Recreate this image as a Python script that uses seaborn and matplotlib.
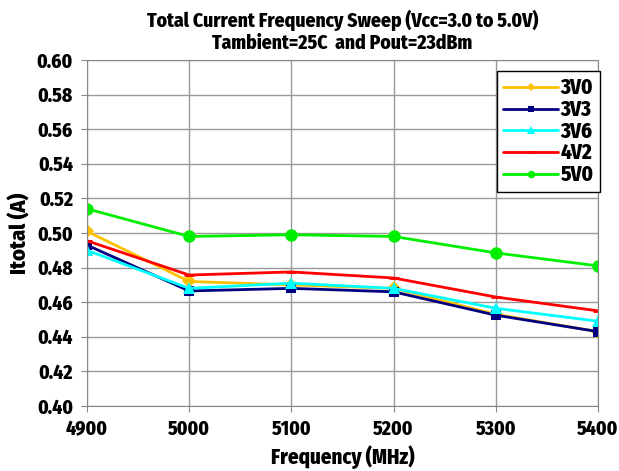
import matplotlib
matplotlib.use('Agg')
import pandas as pd
import matplotlib.pyplot as plt
import seaborn as sns

freq = [4900, 5000, 5100, 5200, 5300, 5400]
i_3v0 = [0.501, 0.472, 0.470, 0.468, 0.453, 0.443]
i_3v3 = [0.493, 0.4665, 0.468, 0.466, 0.4525, 0.443]
i_3v6 = [0.490, 0.468, 0.471, 0.468, 0.4565, 0.449]
i_4v2 = [0.4955, 0.4757, 0.4775, 0.474, 0.463, 0.455]
i_5v0 = [0.514, 0.498, 0.499, 0.498, 0.4885, 0.481]

names = ['3V0', '3V3', '3V6', '4V2', '5V0']
series = [i_3v0, i_3v3, i_3v6, i_4v2, i_5v0]
colors = ['#FFC000', '#000080', '#00FFFF', '#FF0000', '#00EE00']
markers = ['D', 's', '^', '_', 'o']
msizes = [7, 7, 9, 7, 9]

sns.set_style('white')
plt.rcParams['font.family'] = ['Fira Sans Condensed', 'PT Sans Narrow', 'Roboto Condensed',
                               'DejaVu Sans']
plt.rcParams['font.weight'] = 'bold'
plt.rcParams['text.color'] = 'black'
plt.rcParams['axes.labelcolor'] = 'black'

fig = plt.figure(figsize=(6.19, 4.71), dpi=100)
ax = fig.add_axes([0.1405, 0.138, 0.8255, 0.7346])

for name, vals, c, m, ms in zip(names, series, colors, markers, msizes):
    d = pd.DataFrame({'Frequency': freq, 'Itotal': vals})
    sns.lineplot(data=d, x='Frequency', y='Itotal', color=c, marker=m,
                 markersize=ms, markeredgewidth=0 if m != '_' else 2,
                 markeredgecolor=c, linewidth=2, label=name, ax=ax)

ax.set_xlim(4900, 5400)
ax.set_ylim(0.40, 0.60)
ax.set_xticks(freq)
ax.set_yticks([0.40 + 0.02 * k for k in range(11)])
ax.set_yticklabels(['%.2f' % (0.40 + 0.02 * k) for k in range(11)])
ax.grid(True, color='#999999', linewidth=1)
for s in ax.spines.values():
    s.set_color('#888888')
ax.tick_params(axis='both', labelsize=14, labelcolor='black', length=4,
               color='#888888', left=True, bottom=True, pad=6)
for lab in ax.get_xticklabels() + ax.get_yticklabels():
    lab.set_fontweight('heavy')
ax.set_xlabel('Frequency (MHz)', fontsize=15, fontweight='heavy', labelpad=4)
ax.set_ylabel('Itotal (A)', fontsize=16, fontweight='heavy', labelpad=4)
ax.set_title('Total Current Frequency Sweep (Vcc=3.0 to 5.0V)\nTambient=25C  and Pout=23dBm',
             fontsize=14, fontweight='heavy', pad=8, linespacing=1.15)

leg = ax.legend(loc='upper right', bbox_to_anchor=(1.004, 0.967), fontsize=15,
                frameon=True, fancybox=False, handlelength=2.6,
                handletextpad=0.15, labelspacing=0.02, borderpad=0.3,
                markerscale=0.6, borderaxespad=0)
leg.get_frame().set_edgecolor('black')
leg.get_frame().set_linewidth(1)
leg.get_frame().set_alpha(1)
for t in leg.get_texts():
    t.set_fontweight('heavy')

fig.savefig('out.png', dpi=100)
